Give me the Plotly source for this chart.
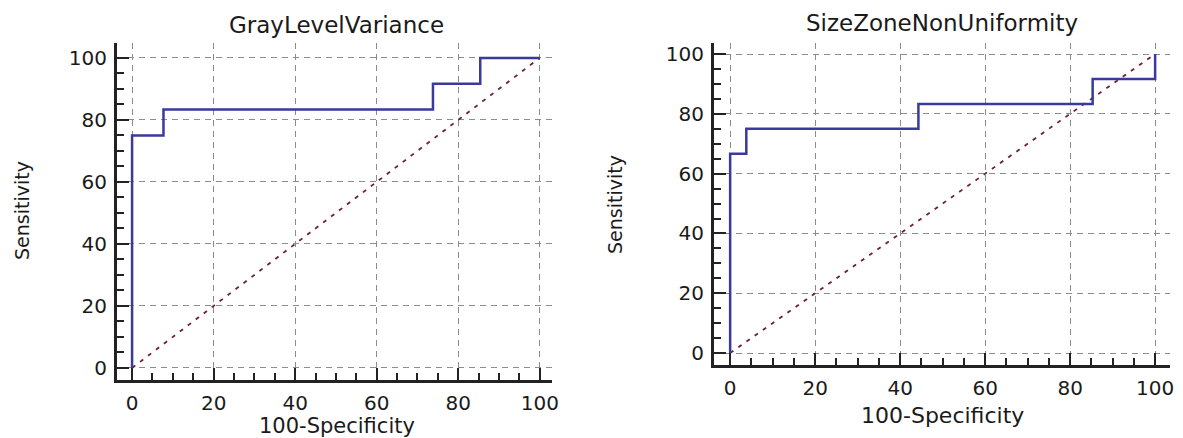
import plotly.graph_objects as go

# ---- data ----
titles = ["GrayLevelVariance", "SizeZoneNonUniformity"]
x_title = "100-Specificity"
y_title = "Sensitivity"
tick_values = [0, 20, 40, 60, 80, 100]

glv_fpr = [0, 0, 7.7, 73.8, 85.4, 100]
glv_sens = [0, 75.0, 83.33, 91.67, 100, 100]

szn_fpr = [0, 0, 3.8, 44.3, 85.3, 100]
szn_sens = [0, 66.67, 75.0, 83.33, 91.67, 100]

diag = [0, 100]

# page has an 8px body margin; figure fills the rest of the 1183x438 window
OFF = 8
W, H = 1183 - OFF, 438 - OFF
ROC_COLOR = "#3a3a9c"
DIAG_COLOR = "#6e2038"
FONT = "DejaVu Sans"


def px(X):
    return (X - OFF) / W


def py(Y):
    return 1 - (Y - OFF) / H


fig = go.Figure()

panels = [
    dict(x=glv_fpr, y=glv_sens, xa="x", ya="y",
         xdom=[px(117), px(552)], ydom=[py(380), py(43)],
         xr=[-3.7, 103], yr=[-3.9, 104.8]),
    dict(x=szn_fpr, y=szn_sens, xa="x2", ya="y2",
         xdom=[px(714), px(1170)], ydom=[py(365), py(43)],
         xr=[-3.8, 103.5], yr=[-4.0, 103.7]),
]

for i, p in enumerate(panels):
    fig.add_trace(go.Scatter(x=diag, y=diag, mode="lines", xaxis=p["xa"], yaxis=p["ya"],
                             line=dict(color=DIAG_COLOR, width=1.8, dash="4px,6px"),
                             showlegend=False, hoverinfo="skip"))
    fig.add_trace(go.Scatter(x=p["x"], y=p["y"], mode="lines", xaxis=p["xa"], yaxis=p["ya"],
                             line=dict(color=ROC_COLOR, width=2.5, shape="hv"),
                             showlegend=False))


def axis_style(domain, rng, anchor):
    return dict(
        domain=domain, range=rng, anchor=anchor, automargin=False,
        tickmode="array", tickvals=tick_values,
        ticks="inside", ticklen=12, tickwidth=2, tickcolor="#222",
        minor=dict(dtick=5, tick0=0, ticks="inside", ticklen=7, tickwidth=1.5,
                   tickcolor="#222", showgrid=False),
        showline=True, linewidth=3, linecolor="#222",
        showgrid=True, gridcolor="#8c8c8c", gridwidth=1, griddash="6px,5px",
        zeroline=False,
        tickfont=dict(family=FONT, size=20, color="#1a1a1a"),
        ticklabelstandoff=3,
        mirror=False, fixedrange=True,
    )


fig.update_layout(
    width=W, height=H,
    margin=dict(l=0, r=0, t=0, b=0, autoexpand=False),
    paper_bgcolor="white", plot_bgcolor="white",
    xaxis=axis_style(panels[0]["xdom"], panels[0]["xr"], "y"),
    yaxis=axis_style(panels[0]["ydom"], panels[0]["yr"], "x"),
    xaxis2=axis_style(panels[1]["xdom"], panels[1]["xr"], "y2"),
    yaxis2=axis_style(panels[1]["ydom"], panels[1]["yr"], "x2"),
)

annots = [
    # panel titles
    dict(text=titles[0], x=336, y=25, size=23),
    dict(text=titles[1], x=942, y=23, size=23),
    # x titles
    dict(text=x_title, x=337, y=426, size=21),
    dict(text=x_title, x=942, y=415, size=22),
]
for a in annots:
    fig.add_annotation(text=a["text"], x=px(a["x"]), y=py(a["y"]), xref="paper", yref="paper",
                       xanchor="center", yanchor="middle", showarrow=False,
                       font=dict(family=FONT, size=a["size"], color="#1a1a1a"))

for xc, yc in [(22, 211), (615, 204)]:
    fig.add_annotation(text=y_title, x=px(xc), y=py(yc), xref="paper", yref="paper",
                       xanchor="center", yanchor="middle", showarrow=False, textangle=-90,
                       font=dict(family=FONT, size=19, color="#1a1a1a"))

fig.write_html("out.html")
